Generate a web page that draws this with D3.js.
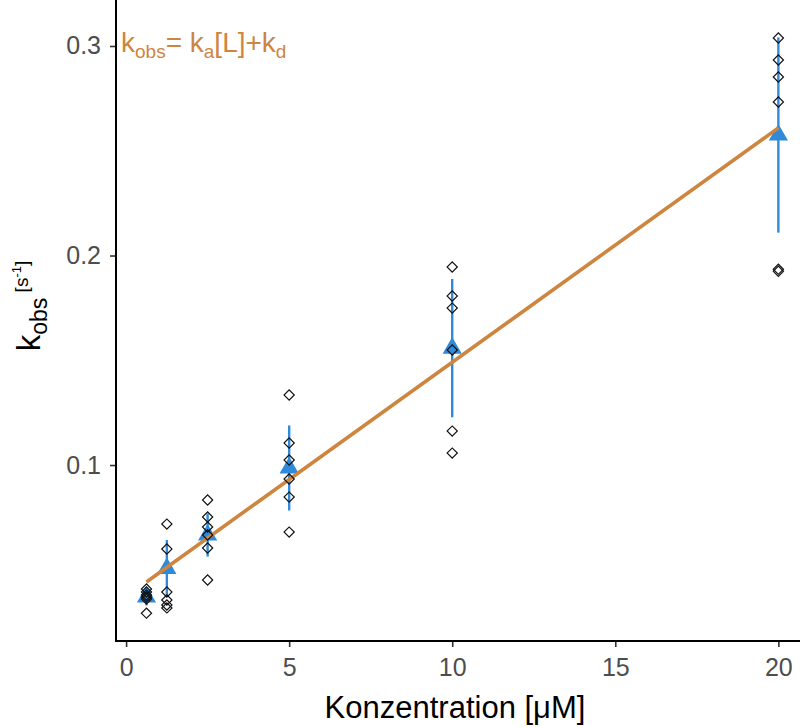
<!DOCTYPE html>
<html>
<head>
<meta charset="utf-8">
<script src="https://cdn.jsdelivr.net/npm/d3@7"></script>
<style>
  html, body { margin: 0; padding: 0; background: #fff; }
  svg { display: block; font-family: "Liberation Sans", Arial, sans-serif; }
</style>
</head>
<body>
<svg id="chart" width="800" height="727"></svg>
<script>
// ---- data ----
const concentrations = [0.625, 1.25, 2.5, 5, 10, 20];
const observations = [
  [0.0408, 0.0394, 0.0380, 0.0370, 0.0360, 0.0293],
  [0.0718, 0.0599, 0.0394, 0.0356, 0.0332, 0.0318],
  [0.0833, 0.0752, 0.0704, 0.0666, 0.0604, 0.0451],
  [0.1334, 0.1105, 0.1024, 0.0933, 0.0847, 0.0680],
  [0.1945, 0.1807, 0.1749, 0.1549, 0.1162, 0.1057],
  [0.3038, 0.2933, 0.2852, 0.2733, 0.1935, 0.1925]
];
const meanValues = [0.0370, 0.0506, 0.0666, 0.0986, 0.1558, 0.2575];
const sdValues   = [0.0040, 0.0136, 0.0103, 0.0203, 0.0330, 0.0466];
const fitX = [0.625, 20];
const fitY = [0.0442, 0.2609];
const xTicks = [0, 5, 10, 15, 20];
const yTicks = [0.1, 0.2, 0.3];

const blue = "#2f8ad9";
const orange = "#cd853f";

const svg = d3.select("#chart");
svg.append("rect").attr("width", 800).attr("height", 727).attr("fill", "#fff");

const x = d3.scaleLinear().domain([-0.34, 20.97]).range([115, 810]);
const y = d3.scaleLinear().domain([0.0163, 0.3167]).range([640.4, 11]);

const axisX = 116, axisY = 641;

svg.append("clipPath").attr("id", "clip")
  .append("rect").attr("x", axisX).attr("y", 0).attr("width", 800 - axisX).attr("height", axisY);

const plot = svg.append("g").attr("clip-path", "url(#clip)");

// error bars
plot.selectAll("line.err").data(concentrations).join("line")
  .attr("class", "err")
  .attr("x1", d => x(d)).attr("x2", d => x(d))
  .attr("y1", (d, i) => y(meanValues[i] - sdValues[i]))
  .attr("y2", (d, i) => y(meanValues[i] + sdValues[i]))
  .attr("stroke", blue).attr("stroke-width", 2.4);

// mean triangles
const tri = d3.symbol().type(d3.symbolTriangle).size(160);
plot.selectAll("path.mean").data(concentrations).join("path")
  .attr("class", "mean")
  .attr("d", tri)
  .attr("transform", (d, i) => `translate(${x(d)},${y(meanValues[i])})`)
  .attr("fill", blue);

// fit line
plot.append("path")
  .datum(fitX.map((d, i) => [d, fitY[i]]))
  .attr("d", d3.line().x(d => x(d[0])).y(d => y(d[1])))
  .attr("stroke", orange).attr("stroke-width", 3.6).attr("fill", "none");

// observations (open diamonds)
const pts = [];
concentrations.forEach((c, i) => observations[i].forEach(v => pts.push([c, v])));
const sq = d3.symbol().type(d3.symbolSquare).size(52);
plot.selectAll("path.obs").data(pts).join("path")
  .attr("class", "obs")
  .attr("d", sq)
  .attr("transform", d => `translate(${x(d[0])},${y(d[1])}) rotate(45)`)
  .attr("fill", "none").attr("stroke", "#111").attr("stroke-width", 1.2);

// axes
const gx = svg.append("g").attr("transform", `translate(0,${axisY})`)
  .call(d3.axisBottom(x).tickValues(xTicks).tickSize(6).tickPadding(11).tickFormat(d3.format("d")));
const gy = svg.append("g").attr("transform", `translate(${axisX},0)`)
  .call(d3.axisLeft(y).tickValues(yTicks).tickSize(6).tickPadding(9).tickFormat(d3.format(".1f")));

[gx, gy].forEach(g => {
  g.select(".domain").remove();
  g.selectAll(".tick line").attr("stroke", "#333").attr("stroke-width", 1.6);
  g.selectAll(".tick text").attr("fill", "#4d4d4d").attr("font-size", 25)
    .attr("font-family", "Liberation Sans, Arial, sans-serif");
});

svg.append("line").attr("x1", axisX).attr("x2", 800).attr("y1", axisY).attr("y2", axisY)
  .attr("stroke", "#000").attr("stroke-width", 2);
svg.append("line").attr("x1", axisX).attr("x2", axisX).attr("y1", 0).attr("y2", axisY + 1)
  .attr("stroke", "#000").attr("stroke-width", 2);

// x title
svg.append("text").attr("x", 455).attr("y", 718).attr("text-anchor", "middle")
  .attr("font-size", 31).attr("fill", "#000").text("Konzentration [μM]");

// y title
const yt = svg.append("text").attr("transform", "translate(40,306) rotate(-90)")
  .attr("text-anchor", "middle").attr("fill", "#000");
yt.append("tspan").attr("font-size", 33).text("k");
yt.append("tspan").attr("font-size", 23).attr("dy", 7).text("obs");
yt.append("tspan").attr("font-size", 19).attr("dy", -19).text(" [s");
yt.append("tspan").attr("font-size", 13).attr("dy", -7).text("-1");
yt.append("tspan").attr("font-size", 19).attr("dy", 7).text("]");

// formula
const ft = svg.append("text").attr("x", 121).attr("y", 52).attr("fill", orange);
ft.append("tspan").attr("font-size", 28).text("k");
ft.append("tspan").attr("font-size", 19).attr("dy", 6).text("obs");
ft.append("tspan").attr("font-size", 28).attr("dy", -6).text("= k");
ft.append("tspan").attr("font-size", 19).attr("dy", 6).text("a");
ft.append("tspan").attr("font-size", 28).attr("dy", -6).text("[L]+k");
ft.append("tspan").attr("font-size", 19).attr("dy", 6).text("d");
</script>
</body>
</html>
